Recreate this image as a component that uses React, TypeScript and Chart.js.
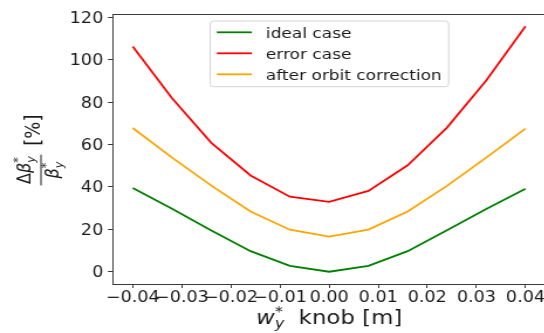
import React, { useEffect, useRef } from "react";
import { Chart, registerables } from "chart.js";

Chart.register(...registerables);

// ---- data ----
const knob = [-0.04, -0.032, -0.024, -0.016, -0.008, 0, 0.008, 0.016, 0.024, 0.032, 0.04];
const idealCase = [39.5, 29.7, 19.5, 9.7, 2.8, 0, 2.8, 9.7, 19.6, 29.6, 39.1];
const errorCase = [106.2, 81.8, 60.8, 45.4, 35.4, 33.0, 38.1, 50.2, 68.0, 90.2, 115.8];
const afterCorrection = [67.8, 53.8, 40.6, 28.4, 19.8, 16.6, 19.9, 28.4, 40.5, 53.8, 67.5];

const seriesNames = ["ideal case", "error case", "after orbit correction"];
const seriesColors = ["#008000", "#ff0000", "#ffa500"];

const xTickValues = [-0.04, -0.03, -0.02, -0.01, 0, 0.01, 0.02, 0.03, 0.04];
const xTickLabels = ["\u22120.04", "\u22120.03", "\u22120.02", "\u22120.01", "0.00", "0.01", "0.02", "0.03", "0.04"];
const yTickValues = [0, 20, 40, 60, 80, 100, 120];
const yTickLabels = ["0", "20", "40", "60", "80", "100", "120"];

// ---- layout (internal canvas px; the canvas is stretched horizontally) ----
const SX = 1.17;
const CW = 480;
const CH = 333;
const FONT = '"DejaVu Sans", "Liberation Sans", sans-serif';
const INK = "#1a1a1a";
const SPINE = "#3a3a3a";

type Run = { t: string; it?: boolean; s?: number; dy?: number; keep?: boolean };

function runsWidth(ctx: CanvasRenderingContext2D, runs: Run[], base: number) {
  let x = 0;
  for (const r of runs) {
    const size = base * (r.s ?? 1);
    ctx.font = `${r.it ? "italic " : ""}${size}px ${FONT}`;
    const w = ctx.measureText(r.t).width;
    if (!r.keep) x += w;
  }
  return x;
}

function drawRuns(ctx: CanvasRenderingContext2D, runs: Run[], x0: number, y0: number, base: number) {
  let x = x0;
  for (const r of runs) {
    const size = base * (r.s ?? 1);
    ctx.font = `${r.it ? "italic " : ""}${size}px ${FONT}`;
    const w = ctx.measureText(r.t).width;
    ctx.fillText(r.t, x, y0 + (r.dy ?? 0) * base);
    if (!r.keep) x += w;
  }
  return x - x0;
}

const decorPlugin = {
  id: "decor",
  afterDraw(chart: any) {
    const ctx: CanvasRenderingContext2D = chart.ctx;
    const a = chart.chartArea;
    ctx.save();
    // top spine
    ctx.strokeStyle = SPINE;
    ctx.lineWidth = 1;
    ctx.beginPath();
    ctx.moveTo(a.left, a.top + 0.5);
    ctx.lineTo(a.right + 1, a.top + 0.5);
    ctx.stroke();

    // legend
    const bx = 179.5, by = 21, bw = 203.7, bh = 65.7, r = 3;
    ctx.beginPath();
    ctx.moveTo(bx + r, by);
    ctx.lineTo(bx + bw - r, by);
    ctx.quadraticCurveTo(bx + bw, by, bx + bw, by + r);
    ctx.lineTo(bx + bw, by + bh - r);
    ctx.quadraticCurveTo(bx + bw, by + bh, bx + bw - r, by + bh);
    ctx.lineTo(bx + r, by + bh);
    ctx.quadraticCurveTo(bx, by + bh, bx, by + bh - r);
    ctx.lineTo(bx, by + r);
    ctx.quadraticCurveTo(bx, by, bx + r, by);
    ctx.closePath();
    ctx.fillStyle = "rgba(255,255,255,0.85)";
    ctx.fill();
    ctx.strokeStyle = "#d4d4d4";
    ctx.lineWidth = 1;
    ctx.stroke();
    const rows = [32.3, 53.3, 74.3];
    seriesNames.forEach((name, i) => {
      ctx.strokeStyle = seriesColors[i];
      ctx.lineWidth = 1.8;
      ctx.beginPath();
      ctx.moveTo(185.2, rows[i]);
      ctx.lineTo(215.1, rows[i]);
      ctx.stroke();
      ctx.fillStyle = INK;
      ctx.font = `14.5px ${FONT}`;
      ctx.textAlign = "left";
      ctx.textBaseline = "alphabetic";
      ctx.fillText(name, 227.1, rows[i] + 5.3);
    });

    // x label: $w_y^*$ knob [m]
    ctx.fillStyle = INK;
    ctx.textAlign = "left";
    ctx.textBaseline = "alphabetic";
    const xRuns: Run[] = [
      { t: "w", it: true },
      { t: "*", s: 0.7, dy: -0.42, keep: true },
      { t: "y", it: true, s: 0.7, dy: 0.22 },
      { t: "  knob [m]" },
    ];
    const xBase = 19.5;
    const xw = runsWidth(ctx, xRuns, xBase);
    const xc = (a.left + a.right) / 2;
    drawRuns(ctx, xRuns, xc - xw / 2, 324, xBase);

    // y label: \frac{\Delta\beta_y^*}{\beta_y^*} [%]
    const nb = 16;
    const numRuns: Run[] = [
      { t: "\u0394" },
      { t: "\u03b2", it: true },
      { t: "*", s: 0.7, dy: -0.42, keep: true },
      { t: "y", it: true, s: 0.7, dy: 0.25 },
    ];
    const denRuns: Run[] = [
      { t: "\u03b2", it: true },
      { t: "*", s: 0.7, dy: -0.42, keep: true },
      { t: "y", it: true, s: 0.7, dy: 0.25 },
    ];
    const pctRuns: Run[] = [{ t: "[%]" }];
    const pb = 18;
    const numW = runsWidth(ctx, numRuns, nb);
    const denW = runsWidth(ctx, denRuns, nb);
    const fracW = Math.max(numW, denW) + 3;
    const gap = 9;
    const pctW = runsWidth(ctx, pctRuns, pb);
    const total = fracW + gap + pctW;
    const barX = 35;
    const cy = (a.top + a.bottom) / 2 + 1;
    ctx.translate(barX, cy);
    ctx.rotate(-Math.PI / 2);
    const x0 = -total / 2;
    // bar
    ctx.strokeStyle = INK;
    ctx.lineWidth = 1;
    ctx.beginPath();
    ctx.moveTo(x0, 0);
    ctx.lineTo(x0 + fracW, 0);
    ctx.stroke();
    drawRuns(ctx, numRuns, x0 + (fracW - numW) / 2, -9.5, nb);
    drawRuns(ctx, denRuns, x0 + (fracW - denW) / 2, 15, nb);
    drawRuns(ctx, pctRuns, x0 + fracW + gap, -1, pb);
    ctx.restore();
  },
};

export default function App() {
  const ref = useRef<HTMLCanvasElement | null>(null);
  useEffect(() => {
    if (!ref.current) return;
    const mk = (data: number[]) => knob.map((x, i) => ({ x, y: data[i] }));
    const allSeries = [idealCase, errorCase, afterCorrection];
    const chart = new Chart(ref.current, {
      type: "line",
      data: {
        datasets: allSeries.map((s, i) => ({
          label: seriesNames[i],
          data: mk(s),
          borderColor: seriesColors[i],
          backgroundColor: seriesColors[i],
          borderWidth: 1.8,
          pointRadius: 0,
          tension: 0,
          fill: false,
        })),
      },
      options: {
        animation: false,
        responsive: false,
        devicePixelRatio: 1,
        events: [],
        layout: { padding: { left: 0, right: 14, top: 14, bottom: 0 } },
        plugins: { legend: { display: false }, tooltip: { enabled: false }, title: { display: false } },
        scales: {
          x: {
            type: "linear",
            position: "bottom",
            min: -0.0441,
            max: 0.0441,
            afterBuildTicks: (s: any) => {
              s.ticks = xTickValues.map((v) => ({ value: v }));
            },
            afterFit: (s: any) => {
              s.height = 49;
            },
            grid: { display: true, drawOnChartArea: false, drawTicks: true, tickLength: 4, color: SPINE, tickColor: SPINE },
            border: { display: true, color: SPINE, width: 1 },
            ticks: {
              autoSkip: false,
              maxRotation: 0,
              padding: 1,
              color: INK,
              font: { family: FONT, size: 15 },
              callback: (_v: any, i: number) => xTickLabels[i],
            },
          },
          y: {
            type: "linear",
            min: -5.79,
            max: 121.58,
            afterBuildTicks: (s: any) => {
              s.ticks = yTickValues.map((v) => ({ value: v }));
            },
            afterFit: (s: any) => {
              s.width = 96.2;
            },
            grid: { display: true, drawOnChartArea: false, drawTicks: true, tickLength: 4, color: SPINE, tickColor: SPINE },
            border: { display: true, color: SPINE, width: 1 },
            ticks: {
              padding: 4,
              labelOffset: 1.5,
              color: INK,
              font: { family: FONT, size: 15 },
              callback: (_v: any, i: number) => yTickLabels[i],
            },
          },
        },
      },
      plugins: [decorPlugin],
    } as any);
    return () => chart.destroy();
  }, []);
  return (
    <div style={{ position: "fixed", left: 0, top: 0, width: 544, height: 333, overflow: "hidden", background: "#fff" }}>
      <canvas
        ref={ref}
        width={CW}
        height={CH}
        style={{ width: `${CW * SX}px`, height: `${CH}px`, display: "block" }}
      />
    </div>
  );
}
